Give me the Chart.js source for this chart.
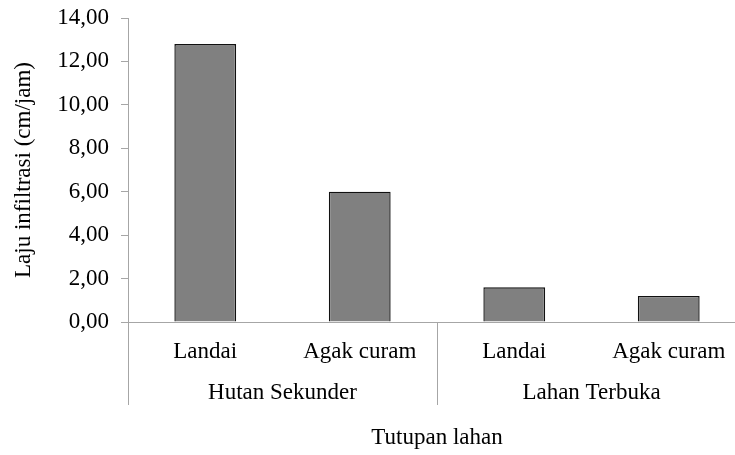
<!DOCTYPE html>
<html>
<head>
    <meta charset="utf-8" />
    <title>Laju infiltrasi</title>
    <script src="https://cdn.jsdelivr.net/npm/chart.js"></script>
    <style>
        body { margin: 0; background: #fff; overflow: hidden; }
        /* plot runs slightly past the right edge of the window, like the original */
        #wrap { width: 746px; height: 455px; }
    </style>
</head>
<body>
    <div id="wrap">
        <canvas id="infChart"></canvas>
    </div>

    <script>
        // data
        const categories = ['Landai', 'Agak curam', 'Landai', 'Agak curam'];
        const groups = ['Hutan Sekunder', 'Lahan Terbuka'];
        const groupSize = 2;
        const values = [12.8, 6.0, 1.6, 1.2];
        const yMin = 0, yMax = 14, yStep = 2;

        const axisColor = '#a6a6a6';
        const font = { family: '"Liberation Serif", "Times New Roman", serif', size: 23 };

        // group labels under the category labels, with separator lines
        const groupPlugin = {
            id: 'groupLabels',
            afterDraw(chart) {
                const x = chart.scales.x;
                const ctx = chart.ctx;
                const bottom = chart.chartArea.bottom;
                const half = (x.getPixelForValue(1) - x.getPixelForValue(0)) / 2;
                ctx.save();
                ctx.strokeStyle = axisColor;
                ctx.lineWidth = 1;
                ctx.font = font.size + 'px ' + font.family;
                ctx.fillStyle = '#000';
                ctx.textAlign = 'center';
                ctx.textBaseline = 'middle';
                for (let g = 0; g <= groups.length; g++) {
                    const px = Math.round(x.getPixelForValue(g * groupSize) - half) + 0.5;
                    ctx.beginPath();
                    ctx.moveTo(px, bottom);
                    ctx.lineTo(px, bottom + 83);
                    ctx.stroke();
                }
                groups.forEach((name, g) => {
                    const a = x.getPixelForValue(g * groupSize);
                    const b = x.getPixelForValue(g * groupSize + groupSize - 1);
                    ctx.fillText(name, (a + b) / 2, bottom + 71);
                });
                ctx.restore();
            }
        };

        const ctx = document.getElementById('infChart').getContext('2d');
        new Chart(ctx, {
            type: 'bar',
            data: {
                labels: categories,
                datasets: [{
                    data: values,
                    backgroundColor: '#808080',
                    borderColor: '#111',
                    borderWidth: 1.4,
                    barPercentage: 0.40,
                    categoryPercentage: 1
                }]
            },
            options: {
                responsive: true,
                maintainAspectRatio: false,
                animation: false,
                layout: { padding: { top: 18, right: 0, left: 0, bottom: 0 } },
                plugins: {
                    legend: { display: false },
                    tooltip: { enabled: false }
                },
                scales: {
                    x: {
                        afterFit(scale) {
                            scale.height = 133;
                            scale.paddingLeft = 0;
                            scale.paddingRight = 0;
                        },
                        grid: { drawOnChartArea: false, drawTicks: false },
                        border: { color: axisColor, width: 1 },
                        ticks: { color: '#000', font: font, padding: 16, maxRotation: 0, autoSkip: false },
                        title: {
                            display: true,
                            text: 'Tutupan lahan',
                            color: '#000',
                            font: font,
                            padding: { top: 0, bottom: 3 }
                        }
                    },
                    y: {
                        min: yMin,
                        max: yMax,
                        afterFit(scale) {
                            scale.width = 128;
                            scale.paddingTop = 0;
                            scale.paddingBottom = 0;
                        },
                        grid: { drawOnChartArea: false, tickLength: 7, color: axisColor },
                        border: { color: axisColor, width: 1 },
                        ticks: {
                            stepSize: yStep,
                            color: '#000',
                            font: font,
                            padding: 12,
                            callback: v => v.toFixed(2).replace('.', ',')
                        },
                        title: {
                            display: true,
                            text: 'Laju infiltrasi (cm/jam)',
                            color: '#000',
                            font: font,
                            padding: { top: 10, bottom: 0 }
                        }
                    }
                }
            },
            plugins: [groupPlugin]
        });
    </script>
</body>
</html>
